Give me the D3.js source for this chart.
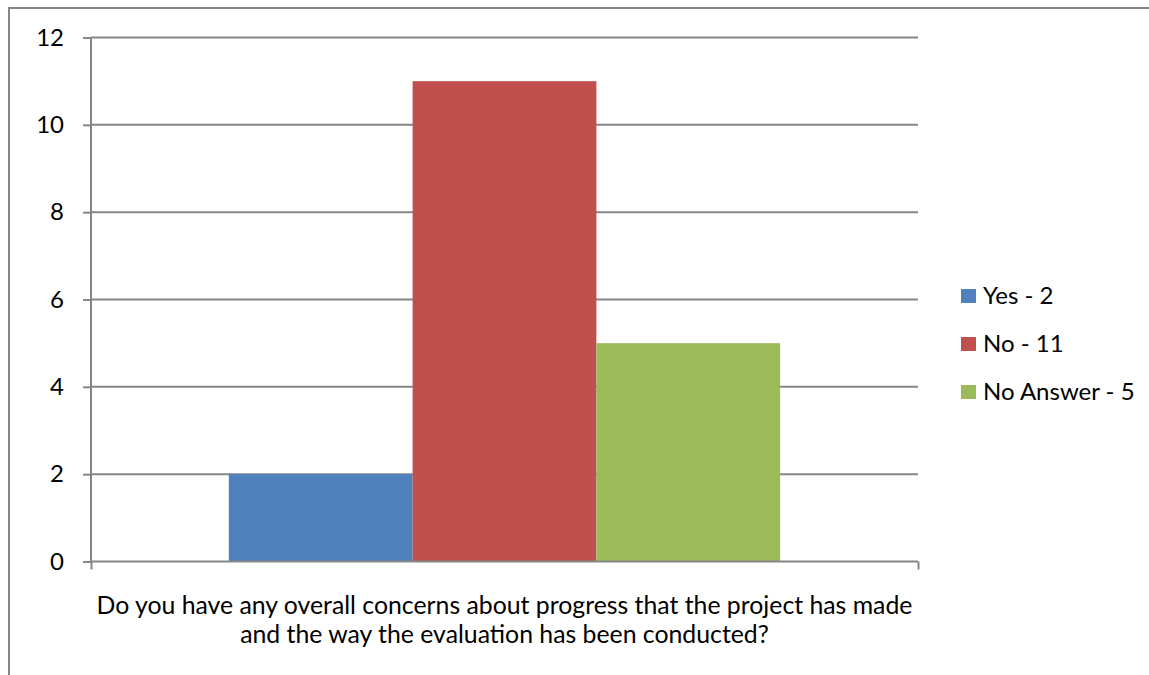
<!DOCTYPE html>
<html><head><meta charset="utf-8">
<script src="https://cdn.jsdelivr.net/npm/d3@7"></script>
<style>body{margin:0;background:#fff;} svg{display:block;font-family:Lato,"Open Sans",sans-serif;}</style>
</head><body>
<svg id="c" width="1149" height="675"></svg>
<script>
const categories = ["Yes - 2", "No - 11", "No Answer - 5"];
const values = [2, 11, 5];
const colors = ["#4F81BD", "#C0504D", "#9BBB59"];
const yTicks = [0, 2, 4, 6, 8, 10, 12];
const xLabelLines = ["Do you have any overall concerns about progress that the project has made", "and the way the evaluation has been conducted?"];

const FS = 24;
const svg = d3.select("#c");
const L = 91, R = 918, T = 37.5, B = 561.5;
// chart border
svg.append("rect").attr("x", 9).attr("y", 8).attr("width", 1200).attr("height", 700)
  .attr("fill", "none").attr("stroke", "#868686").attr("stroke-width", 2);

const y = d3.scaleLinear().domain([0, 12]).range([B, T]);
const outer = d3.scaleBand().domain(["q"]).range([L, R]).paddingInner(0).paddingOuter(0.25);
const x = d3.scaleBand().domain(categories).range([outer("q"), outer("q") + outer.bandwidth()]).padding(0);

// gridlines
svg.append("g").selectAll("line").data(yTicks.filter(d => d > 0)).join("line")
  .attr("x1", L).attr("x2", R).attr("y1", d => y(d)).attr("y2", d => y(d))
  .attr("stroke", "#868686").attr("stroke-width", 2);

// bars
svg.append("g").selectAll("rect").data(values).join("rect")
  .attr("x", (d, i) => x(categories[i])).attr("width", x.bandwidth())
  .attr("y", d => y(d)).attr("height", d => B - y(d))
  .attr("fill", (d, i) => colors[i]);

// y axis
const yAxis = svg.append("g").attr("transform", `translate(${L},0)`)
  .call(d3.axisLeft(y).tickValues(yTicks).tickSize(8).tickPadding(19).tickFormat(d3.format("d")));
yAxis.select(".domain").attr("stroke", "#868686").attr("stroke-width", 2).attr("d", `M0,${T}V${B}`);
yAxis.selectAll(".tick line").attr("stroke", "#868686").attr("stroke-width", 2);
yAxis.selectAll(".tick text").attr("font-size", FS).attr("fill", "#000").attr("font-family", "Lato");

// x axis
const xs = d3.scaleLinear().domain([0, 1]).range([L, R]);
const xAxis = svg.append("g").attr("transform", `translate(0,${B})`)
  .call(d3.axisBottom(xs).tickValues([0, 1]).tickSize(8).tickFormat(""));
xAxis.select(".domain").attr("stroke", "#868686").attr("stroke-width", 2).attr("d", `M${L},0H${R}`);
xAxis.selectAll(".tick line").attr("stroke", "#868686").attr("stroke-width", 2);

// x label
svg.append("g").selectAll("text").data(xLabelLines).join("text")
  .attr("x", (L + R) / 2).attr("y", (d, i) => 614 + i * 29)
  .attr("text-anchor", "middle").attr("font-size", 24.8).attr("fill", "#000").text(d => d);

// legend
const lg = svg.append("g").selectAll("g").data(categories).join("g")
  .attr("transform", (d, i) => `translate(961,${289 + i * 48})`);
lg.append("rect").attr("width", 15).attr("height", 14).attr("fill", (d, i) => colors[i]);
lg.append("text").attr("x", 22).attr("y", 15).attr("font-size", FS).attr("fill", "#000").text(d => d);
</script>
</body></html>
